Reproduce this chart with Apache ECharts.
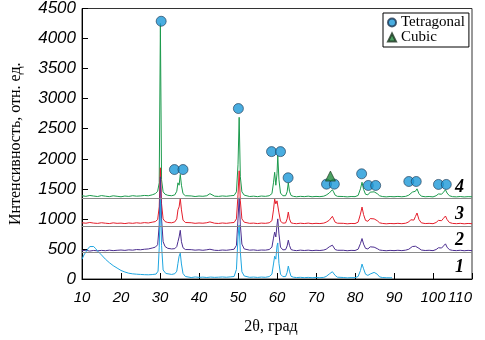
<!DOCTYPE html>
<html>
<head>
<meta charset="utf-8">
<script src="https://cdn.jsdelivr.net/npm/echarts@6/dist/echarts.min.js"></script>
<style>html,body{margin:0;padding:0;background:#fff}#c{width:485px;height:340px}</style>
</head>
<body>
<div id="c"></div>
<script>
// ---- data ----
const xTicks = [10,20,30,40,50,60,70,80,90,100,110];
const yTicks = [0,500,1000,1500,2000,2500,3000,3500,4000,4500];
const curveNames = ['1','2','3','4'];
const baselineLevels = [1340, 870, 452];

const s1 = [[10,330],[10.5,400],[11,450],[11.5,500],[12,540],[12.5,555],[13,540],[13.5,505],[14,465],[15,400],[16,330],[17,272],[18,222],[19,182],[20,142],[21,116],[22,96],[23,86],[24,80],[25,76],[26,72],[27,70],[28,74],[29,82],[29.5,130],[29.8,520],[30.1,1320],[30.4,560],[30.8,150],[31.5,92],[32,82],[33,76],[33.8,88],[34.3,130],[34.6,260],[34.9,380],[35.2,430],[35.5,250],[35.9,92],[36.5,42],[37,30],[38,24],[39,34],[40,27],[41,31],[42,25],[43,32],[44,27],[45,30],[46,34],[47,29],[48,35],[49,42],[49.6,160],[50.0,700],[50.3,900],[50.6,450],[51.0,120],[51.6,50],[52,34],[53,28],[54,32],[55,26],[56,32],[57,28],[58,40],[58.7,80],[59.1,250],[59.4,380],[59.7,330],[60.0,550],[60.2,600],[60.5,260],[60.9,80],[61.5,40],[62.2,40],[62.6,110],[62.9,215],[63.2,130],[63.6,45],[64.2,30],[65,24],[66,28],[67,22],[68,27],[69,21],[70,26],[71,22],[72,27],[72.6,42],[73.0,70],[73.4,83],[73.8,95],[74.2,121],[74.5,108],[74.9,60],[75.5,30],[76,22],[77,25],[78,19],[79,23],[80,22],[80.8,42],[81.4,140],[81.8,248],[82.2,170],[82.7,80],[83.3,60],[83.9,83],[84.4,70],[84.9,110],[85.3,121],[85.7,80],[86.3,35],[87,25],[88,21],[89,20],[89.5,20]];

const s2 = [[10,470],[11,478],[12,465],[13,475],[14,468],[15,476],[16,470],[17,480],[18,472],[19,478],[20,482],[21,476],[22,485],[23,480],[24,490],[25,486],[26,495],[27,500],[28,515],[28.8,530],[29.4,570],[29.8,900],[30.1,1700],[30.4,1000],[30.8,620],[31.3,540],[32,510],[33,500],[33.8,505],[34.3,540],[34.6,620],[34.9,700],[35.2,810],[35.5,620],[35.9,520],[36.5,490],[37,482],[38,488],[39,480],[40,485],[41,478],[42,486],[42.8,495],[43.3,484],[44,478],[45,475],[46,482],[47,478],[48,486],[49,495],[49.6,560],[50.0,1000],[50.3,1350],[50.6,900],[51.0,580],[51.6,500],[52,488],[53,480],[54,484],[55,476],[56,482],[57,480],[58,490],[58.7,530],[59.1,680],[59.4,780],[59.7,700],[60.0,900],[60.2,1000],[60.5,750],[60.9,530],[61.5,485],[62.2,488],[62.6,550],[62.9,646],[63.2,560],[63.6,490],[64.2,478],[65,472],[66,480],[67,474],[68,480],[69,472],[70,478],[71,474],[72,482],[72.6,495],[73.0,520],[73.4,535],[73.8,515],[74.2,563],[74.5,530],[74.9,490],[75.5,478],[76,472],[77,478],[78,470],[79,476],[80,474],[80.8,495],[81.4,590],[81.8,673],[82.2,580],[82.7,510],[83.3,500],[83.9,535],[84.4,510],[84.9,530],[85.3,545],[85.7,505],[86.3,482],[87,476],[88,470],[89,476],[90,472],[91,478],[92,472],[93,480],[93.8,495],[94.3,525],[94.7,540],[95.1,525],[95.5,545],[95.9,563],[96.4,510],[97,482],[98,474],[99,478],[100,472],[100.8,490],[101.4,520],[101.8,531],[102.2,515],[102.7,550],[103.2,585],[103.6,530],[104.2,488],[105,476],[106,472],[107,478],[108,470],[109,476],[110,472]];

const s3 = [[10,935],[11,928],[12,940],[13,930],[14,925],[15,936],[16,928],[17,922],[18,934],[19,926],[20,930],[21,922],[22,932],[23,926],[24,935],[25,928],[26,938],[27,932],[28,945],[28.8,955],[29.4,990],[29.8,1200],[30.1,1850],[30.4,1250],[30.8,1000],[31.3,955],[32,940],[33,935],[33.8,950],[34.3,1000],[34.6,1150],[34.9,1200],[35.2,1340],[35.5,1150],[35.9,980],[36.5,940],[37,930],[38,936],[39,926],[40,932],[41,928],[42,936],[42.8,950],[43.3,935],[44,928],[45,924],[46,932],[47,926],[48,934],[49,940],[49.6,1000],[50.0,1400],[50.3,1800],[50.6,1300],[51.0,1000],[51.6,945],[52,932],[53,926],[54,930],[55,922],[56,930],[57,926],[58,935],[58.7,970],[59.1,1150],[59.4,1330],[59.7,1250],[60.0,1300],[60.2,1280],[60.5,1100],[60.9,960],[61.5,930],[62.2,932],[62.6,1000],[62.9,1114],[63.2,1000],[63.6,935],[64.2,925],[65,920],[66,928],[67,922],[68,930],[69,920],[70,926],[71,922],[72,930],[72.6,945],[73.0,965],[73.4,977],[73.8,960],[74.2,1043],[74.5,1000],[74.9,945],[75.5,928],[76,920],[77,926],[78,918],[79,924],[80,922],[80.8,945],[81.4,1080],[81.8,1197],[82.2,1070],[82.7,975],[83.3,960],[83.9,1005],[84.4,975],[84.9,1000],[85.3,1015],[85.7,970],[86.3,935],[87,925],[88,918],[89,924],[90,920],[91,926],[92,920],[93,928],[93.8,950],[94.3,985],[94.7,1000],[95.1,980],[95.5,1040],[95.9,1098],[96.4,990],[97,935],[98,922],[99,926],[100,920],[100.8,940],[101.4,975],[101.8,993],[102.2,970],[102.7,1010],[103.2,1048],[103.6,990],[104.2,940],[105,925],[106,920],[107,926],[108,918],[109,924],[110,920]];

const s4 = [[10,1385],[11,1375],[12,1390],[13,1380],[14,1372],[15,1388],[16,1378],[17,1370],[18,1384],[19,1376],[20,1368],[21,1380],[22,1374],[23,1386],[24,1378],[25,1382],[26,1390],[27,1385],[28,1400],[28.8,1420],[29.4,1460],[29.8,1600],[30.1,4250],[30.4,1650],[30.8,1450],[31.3,1410],[32,1392],[33,1385],[33.8,1400],[34.3,1460],[34.6,1600],[34.9,1560],[35.2,1740],[35.5,1560],[35.9,1420],[36.5,1385],[37,1375],[38,1382],[39,1372],[40,1380],[41,1376],[42,1385],[42.8,1420],[43.3,1390],[44,1378],[45,1374],[46,1382],[47,1376],[48,1384],[49,1390],[49.6,1450],[50.0,1900],[50.3,2690],[50.6,1700],[51.0,1450],[51.6,1395],[52,1380],[53,1372],[54,1378],[55,1370],[56,1380],[57,1375],[58,1385],[58.7,1420],[59.1,1600],[59.4,1775],[59.7,1560],[60.0,1750],[60.2,2050],[60.5,1650],[60.9,1430],[61.5,1385],[62.2,1385],[62.6,1450],[62.9,1600],[63.2,1460],[63.6,1390],[64.2,1375],[65,1368],[66,1375],[67,1370],[68,1378],[69,1368],[70,1374],[71,1370],[72,1378],[72.6,1395],[73.0,1420],[73.4,1430],[73.8,1410],[74.2,1485],[74.5,1450],[74.9,1395],[75.5,1375],[76,1368],[77,1372],[78,1366],[79,1372],[80,1370],[80.8,1390],[81.4,1500],[81.8,1610],[82.2,1490],[82.7,1410],[83.3,1400],[83.9,1445],[84.4,1420],[84.9,1450],[85.3,1473],[85.7,1420],[86.3,1385],[87,1372],[88,1366],[89,1372],[90,1368],[91,1374],[92,1368],[93,1375],[93.8,1395],[94.3,1425],[94.7,1445],[95.1,1430],[95.5,1460],[95.9,1500],[96.4,1420],[97,1378],[98,1368],[99,1372],[100,1366],[100.8,1385],[101.4,1415],[101.8,1430],[102.2,1410],[102.7,1445],[103.2,1485],[103.6,1430],[104.2,1385],[105,1370],[106,1366],[107,1372],[108,1365],[109,1370],[110,1368]];

const tetragonal = [[30.3,4288],[33.7,1821],[35.9,1821],[50.1,2836],[58.6,2119],[60.9,2119],[62.85,1684],[72.7,1578],[74.7,1578],[81.7,1750],[83.4,1556],[85.3,1556],[93.8,1622],[95.7,1622],[101.4,1573],[103.4,1573]];
const cubic = [[73.7,1712]];

// ---- chart ----
const chart = echarts.init(document.getElementById('c'), null, {renderer:'canvas'});
const lineColors = ['#1fa6e0','#4b2d8f','#e41e2b','#1b9a4c'];
const mk = (name, data, color) => ({
  name, type:'line', data, showSymbol:false, symbol:'none', silent:true,
  lineStyle:{color, width:1}, itemStyle:{color}, animation:false
});
const option = {
  animation:false,
  grid:{left:80, right:13, top:7, bottom:61, show:true, borderColor:'#333', borderWidth:1, backgroundColor:'transparent'},
  legend:{
    data:['Tetragonal','Cubic'], orient:'vertical', left:383, top:13,
    padding:[2,4,2,4], itemGap:0, itemWidth:8, itemHeight:8,
    borderColor:'#000', borderWidth:1, backgroundColor:'#fff',
    textStyle:{fontFamily:'Liberation Serif', fontSize:15, color:'#000', lineHeight:14}
  },
  xAxis:{
    type:'value', min:10, max:110, interval:10,
    name:'2θ, град', nameLocation:'middle', nameGap:40,
    nameTextStyle:{fontFamily:'Liberation Serif', fontSize:16, color:'#000', padding:[0,12,0,0]},
    axisLine:{lineStyle:{color:'#000', width:1}},
    axisTick:{inside:true, length:6, lineStyle:{color:'#000'}},
    axisLabel:{fontFamily:'Liberation Sans', fontStyle:'italic', fontSize:15, color:'#000', margin:11, alignMaxLabel:'right',
      formatter:v=>String(v)},
    splitLine:{show:false}
  },
  yAxis:{
    type:'value', min:0, max:4500, interval:500,
    name:'Интенсивность, отн. ед.', nameLocation:'middle', nameGap:58,
    nameTextStyle:{fontFamily:'Liberation Serif', fontSize:16, color:'#000'},
    axisLine:{show:true, lineStyle:{color:'#000', width:1}},
    axisTick:{show:true, inside:true, length:6, lineStyle:{color:'#000'}},
    axisLabel:{fontFamily:'Liberation Sans', fontStyle:'italic', fontSize:17, color:'#000', margin:6,
      formatter:v=>String(v)},
    splitLine:{show:false}
  },
  series:[
    Object.assign(mk('4', s4, lineColors[3]), {
      markLine:{silent:true, symbol:'none', animation:false,
        lineStyle:{color:'#8a8a8a', width:1, type:'solid'}, label:{show:false},
        data: baselineLevels.map(v=>({yAxis:v}))}
    }),
    mk('3', s3, lineColors[2]),
    mk('2', s2, lineColors[1]),
    mk('1', s1, lineColors[0]),
    {name:'Tetragonal', type:'scatter', data:tetragonal, symbol:'circle', symbolSize:10,
     itemStyle:{color:'#1c98d8', borderColor:'#1d3550', borderWidth:0.8}, z:5},
    {name:'Cubic', type:'scatter', data:cubic, symbol:'triangle', symbolSize:10,
     itemStyle:{color:'#1e8a3c', borderColor:'#1d3520', borderWidth:0.8}, z:5}
  ],
  graphic:[
    {type:'text', left:455, top:178, style:{text:curveNames[3], font:'italic bold 18px "Liberation Serif"', fill:'#000'}},
    {type:'text', left:455, top:205, style:{text:curveNames[2], font:'italic bold 18px "Liberation Serif"', fill:'#000'}},
    {type:'text', left:455, top:231, style:{text:curveNames[1], font:'italic bold 18px "Liberation Serif"', fill:'#000'}},
    {type:'text', left:455, top:258, style:{text:curveNames[0], font:'italic bold 18px "Liberation Serif"', fill:'#000'}}
  ]
};
chart.setOption(option);
</script>
</body>
</html>
